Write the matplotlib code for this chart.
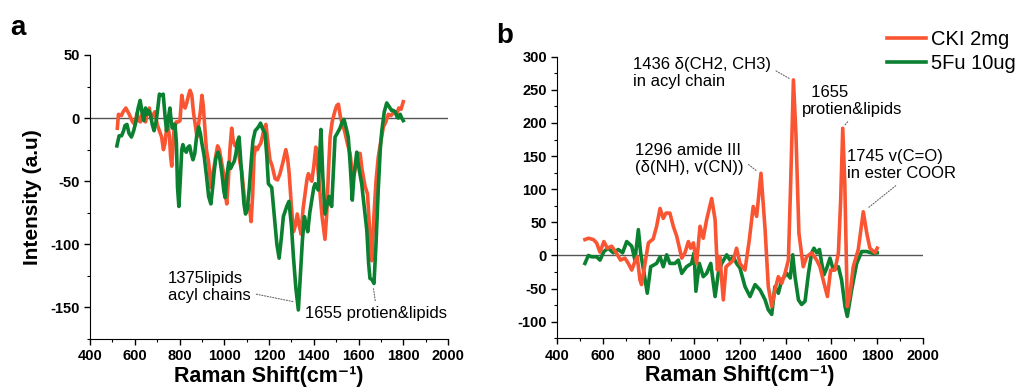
import matplotlib
matplotlib.use("Agg")
import matplotlib.pyplot as plt
from matplotlib.ticker import MultipleLocator

plt.rcParams['font.family'] = ['Liberation Sans', 'DejaVu Sans']
plt.rcParams['axes.unicode_minus'] = False

# panel a: CKI 2mg (red) and 5Fu 10ug (green)
red_a_x = [522, 527, 540, 548, 560, 575, 590, 600, 610, 618, 625, 632, 640, 648, 655, 665, 672, 680, 690, 700,
           710, 720, 728, 735, 742, 748, 755, 760, 765, 770, 775, 785, 795, 802, 810, 818, 825, 832, 840, 847,
           855, 862, 870, 878, 885, 893, 900, 906, 912, 920, 930, 940, 948, 955, 962, 970, 978, 988, 998, 1005,
           1011, 1018, 1025, 1033, 1040, 1048, 1055, 1062, 1070, 1078, 1088, 1096, 1104, 1112, 1120, 1127, 1133,
           1140, 1148, 1155, 1163, 1170, 1178, 1186, 1194, 1204, 1214, 1227, 1238, 1249, 1262, 1275, 1283, 1290,
           1300, 1309, 1318, 1326, 1335, 1343, 1352, 1361, 1370, 1376, 1384, 1391, 1400, 1409, 1416, 1425, 1437,
           1450, 1458, 1466, 1473, 1482, 1495, 1503, 1510, 1520, 1532, 1540, 1550, 1562, 1570, 1580, 1590, 1600,
           1607, 1615, 1629, 1640, 1650, 1659, 1668, 1678, 1688, 1700, 1711, 1722, 1733, 1745, 1760, 1770, 1780,
           1790, 1800]
red_a_y = [-8, 3, 2, 5, 8, 3, -3, -5, 4, -2, -3, 3, 5, -3, 4, 8, 0, 2, 5, -5,
           -10, -15, -25, -20, -8, -5, -15, -30, -38, -25, -10, -3, -3, -2, 18, 10, 8, 12, 18, 22,
           18, 5, -5, -15, -5, 5, 18, 10, -5, -25, -35, -55, -45, -38, -30, -22, -25, -35, -45, -60,
           -68, -50, -25, -8, -18, -22, -20, -25, -35, -42, -60, -72, -68, -70, -82, -60, -30,
           -23, -25, -22, -20, -15, -8, -5, -18, -33, -38, -48, -49, -44, -35, -25, -32, -44,
           -70, -90, -85, -76, -85, -92, -72, -60, -48, -44, -48, -50, -38, -23, -35, -54, -78,
           -96, -75, -40, -15, -3, 6, 10, 11, 0, -7, -12, -20, -28, -40, -45, -35, -28,
           -28, -40, -54, -60, -90, -113, -80, -50, -31, -18, -7, -3, 3, 2, 5, 3, 8,
           7, 13]

green_a_x = [520, 530, 541, 550, 556, 565, 574, 585, 595, 605, 615, 624, 632, 640, 648, 655, 662, 670, 678, 686,
             695, 703, 710, 718, 727, 735, 742, 750, 757, 763, 768, 773, 780, 786, 791, 797, 803, 810, 815, 822,
             830, 838, 845, 852, 860, 868, 876, 885, 893, 900, 910, 920, 930, 940, 948, 955, 962, 972, 980, 990,
             998, 1004, 1012, 1020, 1028, 1036, 1045, 1052, 1060, 1066, 1072, 1080, 1088, 1095, 1103, 1112, 1120,
             1128, 1138, 1148, 1156, 1162, 1170, 1182, 1190, 1197, 1212, 1225, 1235, 1245, 1255, 1264, 1279, 1289,
             1300, 1309, 1320, 1331, 1340, 1349, 1358, 1366, 1373, 1382, 1391, 1400, 1406, 1414, 1420, 1426, 1432,
             1440, 1450, 1460, 1468, 1475, 1480, 1488, 1495, 1505, 1517, 1527, 1535, 1545, 1554, 1562, 1572, 1580,
             1592, 1600, 1614, 1625, 1637, 1645, 1651, 1660, 1669, 1678, 1688, 1697, 1704, 1715, 1726, 1737, 1748,
             1756, 1764, 1772, 1778, 1786, 1793, 1800]
green_a_y = [-22, -14, -14, -10, -6, -5, -12, -15, -10, -3, 8, 14, 5, -2, 8, 3, 6, 3, -5, -10,
             -3, 8, 19, 18, 19, 2, -10, 0, 8, -3, -8, -5, -5, -20, -55, -70, -50, -25, -21, -25,
             -27, -23, -22, -28, -33, -28, -15, -7, -12, -20, -30, -45, -62, -68, -55, -42, -32, -27, -32, -45,
             -58, -63, -45, -35, -40, -37, -34, -28, -18, -15, -30, -50, -68, -76, -72, -55, -35,
             -18, -10, -8, -6, -4, -8, -12, -30, -52, -55, -80, -100, -111, -95, -78, -70, -66,
             -85, -110, -135, -152, -125, -97, -78, -85, -90, -75, -65, -55, -52, -55, -57, -30, -9,
             -45, -76, -68, -62, -68, -70, -40, -15, -12, -8, -3, -1, -8, -15, -35, -65, -45,
             -27, -38, -52, -70, -89, -115, -127, -128, -131, -100, -57, -25, -10, 5, 12, 9, 6,
             6, 5, 1, 0, 3, 0, -2]

# panel b
red_b_x = [521, 536, 558, 572, 587, 604, 619, 638, 660, 677, 696, 711, 726, 740, 750, 762, 769, 784, 799, 820,
           835, 850, 864, 876, 893, 908, 923, 945, 959, 974, 984, 996, 1010, 1025, 1039, 1054, 1076, 1091, 1101,
           1112, 1127, 1139, 1156, 1171, 1185, 1200, 1222, 1241, 1258, 1273, 1292, 1310, 1324, 1339, 1353, 1368,
           1383, 1397, 1412, 1422, 1434, 1445, 1458, 1477, 1492, 1514, 1536, 1550, 1568, 1583, 1597, 1616, 1631,
           1641, 1650, 1659, 1670, 1682, 1696, 1718, 1740, 1755, 1769, 1791, 1801]
red_b_y = [24, 26, 24, 19, 5, 21, 11, 14, 3, -7, -4, -12, -22, -9, -2, -37, -44, -12, 19, 25,
           44, 71, 56, 64, 64, 44, 29, -4, 4, 21, 11, 19, -12, 44, 26, 54, 86, 54, -22,
           -2, -67, -17, -12, -7, 11, -12, -22, 24, 74, 59, 124, 39, -47, -77, -52, -32,
           -42, -27, -7, 109, 265, 184, 34, -17, -2, 4, -7, -17, -42, -62, -22, -22, 4,
           84, 192, 109, -77, -57, -17, 9, 66, 34, 11, 4, 11]

green_b_x = [521, 536, 550, 572, 587, 604, 623, 645, 667, 686, 704, 726, 740, 755, 765, 780, 794, 809, 835, 850,
             864, 879, 893, 915, 930, 945, 966, 988, 999, 1007, 1022, 1039, 1054, 1072, 1091, 1105, 1120, 1142,
             1156, 1171, 1185, 1200, 1222, 1244, 1266, 1288, 1310, 1324, 1339, 1353, 1368, 1383, 1405, 1420, 1431,
             1441, 1456, 1470, 1485, 1500, 1514, 1524, 1536, 1548, 1558, 1568, 1580, 1594, 1609, 1631, 1645, 1660,
             1670, 1689, 1711, 1733, 1755, 1784, 1801]
green_b_y = [-12, 0, -2, -2, -7, 6, 11, 4, 9, 4, 21, 14, -7, 39, 4, -27, -57, -17, -12, -2,
             -17, 1, -12, -12, -7, -27, -17, -12, 4, -54, -12, -32, -27, -12, -62, -27, -12, 1,
             -7, -2, -12, -19, -47, -62, -44, -52, -67, -82, -89, -47, -57, -37, -27, -34, 1,
             -32, -67, -74, -69, -27, 4, 11, 4, 9, -12, -29, -19, -4, -22, -17, -37, -77,
             -92, -52, -12, 6, 6, 3, 4]

red = '#fa5532'
green = '#0b8030'

fig = plt.figure(figsize=(10.22, 3.9), dpi=100)
ax1 = fig.add_axes([0.0881, 0.1308, 0.3503, 0.7282])
ax2 = fig.add_axes([0.5453, 0.1326, 0.3575, 0.722])

ax1.plot(red_a_x, red_a_y, color=red, lw=2.6, zorder=2)
ax1.plot(green_a_x, green_a_y, color=green, lw=2.6, zorder=3)
ax1.set_ylim(-175, 50)
ax1.set_ylabel('Intensity (a.u)', fontsize=15, fontweight='bold')
ax1.yaxis.set_label_coords(-0.135, 0.5)

ax2.plot(red_b_x, red_b_y, color=red, lw=2.6, label='CKI 2mg', zorder=3)
ax2.plot(green_b_x, green_b_y, color=green, lw=2.6, label='5Fu 10ug', zorder=2)
ax2.set_ylim(-125, 300)

for ax in (ax1, ax2):
    ax.spines['top'].set_visible(False)
    ax.spines['right'].set_visible(False)
    ax.axhline(0, color='#555555', lw=1, zorder=1)
    ax.set_xlim(400, 2000)
    ax.xaxis.set_major_locator(MultipleLocator(200))
    ax.xaxis.set_minor_locator(MultipleLocator(100))
    ax.yaxis.set_major_locator(MultipleLocator(50))
    ax.yaxis.set_minor_locator(MultipleLocator(25))
    ax.tick_params(which='major', length=4, width=1, direction='out', labelsize=10.5)
    ax.tick_params(which='minor', length=2.5, width=0.8, direction='out')
    for lab in ax.get_xticklabels() + ax.get_yticklabels():
        lab.set_fontweight('bold')
    ax.set_xlabel('Raman Shift(cm⁻¹)', fontsize=15.5, fontweight='bold', va='top')
    ax.xaxis.set_label_coords(0.5, -0.095)

dot = dict(arrowstyle='-', color='#666666', lw=0.8, linestyle=(0, (1, 1.5)))

# panel a notes
ax1.annotate('1375lipids\nacyl chains', xy=(1325, -146), xytext=(749, -121),
             fontsize=12, va='top', ha='left', linespacing=1.15,
             arrowprops=dict(dot, relpos=(1.0, 0.3)))
ax1.annotate('1655 protien&lipids', xy=(1665, -133), xytext=(1361, -149),
             fontsize=12, va='top', ha='left',
             arrowprops=dict(dot, relpos=(0.5, 1.0)))

# panel b notes
ax2.annotate('1436 δ(CH2, CH3)\nin acyl chain', xy=(1432, 264), xytext=(731, 300),
             fontsize=12, va='top', ha='left', linespacing=1.2,
             arrowprops=dict(dot, relpos=(0.98, 0.7)))
ax2.annotate('  1655\nprotien&lipids', xy=(1650, 193), xytext=(1470, 258),
             fontsize=12, va='top', ha='left', linespacing=1.2,
             arrowprops=dict(dot, relpos=(0.5, 0.0)))
ax2.annotate('1296 amide III\n(δ(NH), v(CN))', xy=(1283, 125), xytext=(740, 170),
             fontsize=12, va='top', ha='left', linespacing=1.2,
             arrowprops=dict(dot, relpos=(1.0, 0.45)))
ax2.annotate('1745 v(C=O)\nin ester COOR', xy=(1751, 69), xytext=(1668, 161),
             fontsize=12, va='top', ha='left', linespacing=1.2,
             arrowprops=dict(dot, relpos=(0.5, 0.0)))

ax2.legend(loc='upper left', bbox_to_anchor=(0.88, 1.125), frameon=False, fontsize=14.5,
           handlelength=1.95, handletextpad=0.25, labelspacing=0.25, borderaxespad=0)

fig.text(0.010, 0.91, 'a', fontsize=20, fontweight='bold')
fig.text(0.486, 0.89, 'b', fontsize=20, fontweight='bold')

fig.savefig('out.png', dpi=100)
